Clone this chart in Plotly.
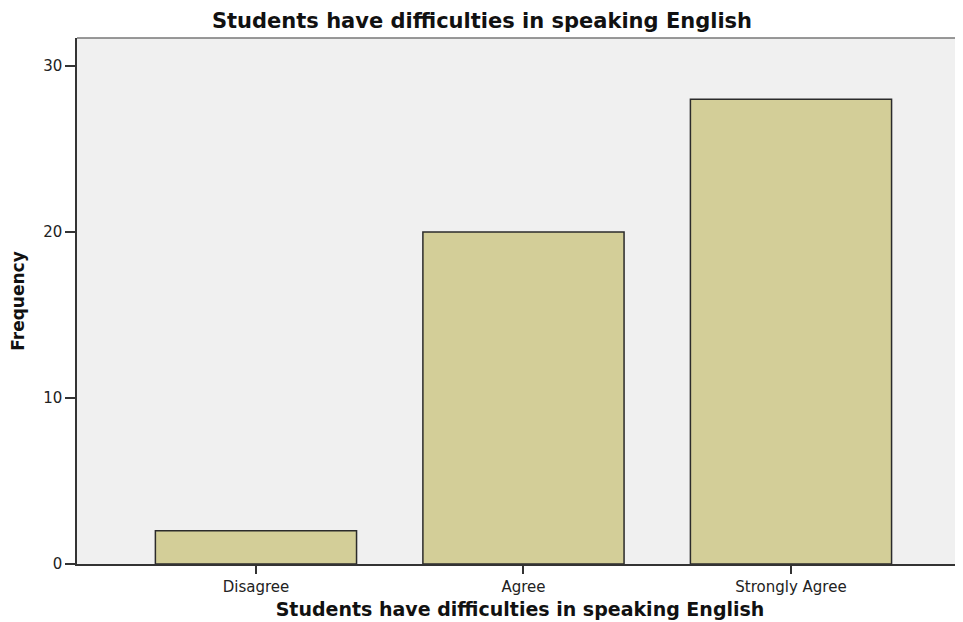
import plotly.graph_objects as go

categories = ["Disagree", "Agree", "Strongly Agree"]
frequencies = [2, 20, 28]
y_ticks = [0, 10, 20, 30]

title_text = "Students have difficulties in speaking English"

# page body has an 8px margin; figure size compensates so plot lands where reference is
W, H = 955, 614

fig = go.Figure(
    go.Bar(
        x=categories,
        y=frequencies,
        width=0.752,
        marker=dict(color="#D3CE98", line=dict(color="#2b2b2b", width=1.5)),
    )
)

fig.update_layout(
    width=W,
    height=H,
    margin=dict(l=69, r=0, t=30, b=58),
    paper_bgcolor="white",
    plot_bgcolor="#F0F0F0",
    showlegend=False,
    font=dict(family="DejaVu Sans, sans-serif", color="#111"),
    title=dict(
        text="<b>" + title_text + "</b>",
        x=(482 - 8) / W,
        xanchor="center",
        xref="container",
        y=1 - 13 / H,
        yanchor="middle",
        yref="container",
        font=dict(size=21, color="#111"),
    ),
)

fig.update_xaxes(
    range=[-0.669, 2.643],
    showgrid=False,
    showline=True,
    linecolor="#333",
    linewidth=1.5,
    ticks="outside",
    ticklen=8,
    tickwidth=1.5,
    tickcolor="#333",
    tickfont=dict(size=15, color="#222"),
    title=dict(text="<b>" + title_text + "</b>", font=dict(size=19, color="#111"), standoff=8),
)

fig.update_yaxes(
    range=[0, 31.69],
    tickvals=y_ticks,
    showgrid=False,
    zeroline=False,
    showline=True,
    linecolor="#333",
    linewidth=1.5,
    ticks="outside",
    ticklen=10,
    tickwidth=1.5,
    tickcolor="#333",
    tickfont=dict(size=15, color="#222"),
    title=dict(text="<b>Frequency</b>", font=dict(size=17, color="#111"), standoff=14),
)

fig.add_shape(
    type="line", xref="paper", yref="paper", x0=0, x1=1, y0=1, y1=1,
    line=dict(color="#777", width=1.5),
)

fig.write_html("out.html")
